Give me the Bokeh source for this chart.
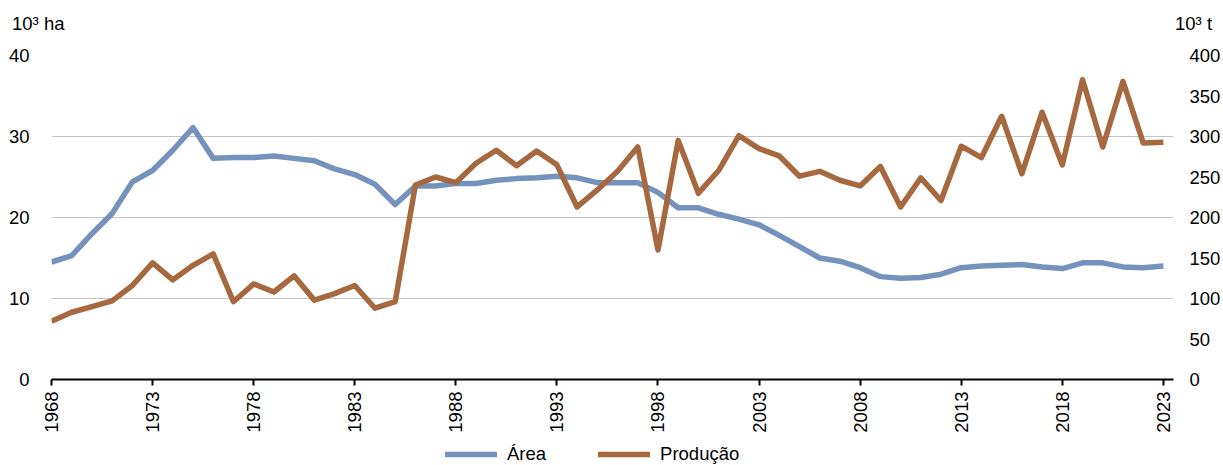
from bokeh.plotting import figure
from bokeh.layouts import column
from bokeh.models import Range1d, LinearAxis, FixedTicker, Legend, LegendItem, Div
from bokeh.embed import file_html
from bokeh.resources import INLINE
import math

years = list(range(1968, 2024))
area = [14.5, 15.3, 18.0, 20.5, 24.4, 25.8, 28.3, 31.1, 27.3, 27.4,
        27.4, 27.6, 27.3, 27.0, 26.0, 25.3, 24.1, 21.6, 23.9, 23.9,
        24.2, 24.2, 24.6, 24.8, 24.9, 25.1, 24.9, 24.3, 24.3, 24.3,
        23.1, 21.2, 21.2, 20.4, 19.8, 19.1, 17.8, 16.4, 15.0, 14.6,
        13.8, 12.7, 12.5, 12.6, 13.0, 13.8, 14.0, 14.1, 14.2, 13.9,
        13.7, 14.4, 14.4, 13.9, 13.8, 14.0]
producao = [72, 83, 90, 97, 116, 144, 123, 141, 155, 96,
            118, 108, 128, 98, 106, 116, 88, 96, 240, 250,
            243, 267, 283, 264, 282, 265, 213, 234, 257, 287,
            160, 295, 230, 258, 301, 285, 276, 251, 257, 246,
            239, 263, 213, 249, 221, 288, 274, 325, 254, 330,
            265, 370, 287, 368, 292, 293]
x_ticks = list(range(1968, 2024, 5))
left_ticks = [0, 10, 20, 30, 40]
right_ticks = [0, 50, 100, 150, 200, 250, 300, 350, 400]
series_names = ["Área", "Produção"]
unit_names = ["10³ ha", "10³ t"]
colors = ["#7492BB", "#A5683F"]
FONT = "Liberation Sans"
FS = "18.5px"
W = 1223
LW = 5.5

# --- top strip with unit labels ---
top_html = (
    '<div style="position:relative;width:%dpx;height:40px;font-family:\'%s\';'
    'font-size:%s;color:black;line-height:1;">'
    '<span style="position:absolute;left:12px;top:15px;white-space:nowrap;">%s</span>'
    '<span style="position:absolute;left:1175px;top:15px;white-space:nowrap;">%s</span>'
    '</div>' % (W, FONT, FS, unit_names[0], unit_names[1])
)
top = Div(text=top_html, width=W, height=40, margin=0)

# --- main plot ---
p = figure(width=W, height=395, output_backend="svg", toolbar_location=None,
           x_range=Range1d(1968, 2023.5), y_range=Range1d(0, 40),
           min_border_left=51, min_border_top=15, min_border_bottom=55, min_border_right=0)
p.outline_line_color = None
p.background_fill_color = "white"
p.border_fill_color = "white"

p.extra_y_ranges = {"t": Range1d(0, 400)}

p.line(years, area, line_color=colors[0], line_width=LW, line_join="round")
p.line(years, producao, line_color=colors[1], line_width=LW, line_join="round",
       y_range_name="t")

xa = p.xaxis[0]
xa.ticker = FixedTicker(ticks=x_ticks, minor_ticks=[])
xa.major_label_orientation = math.pi / 2
xa.axis_line_color = "black"
xa.axis_line_width = 2
xa.major_tick_line_color = "black"
xa.major_tick_line_width = 2
xa.major_tick_in = 0
xa.major_tick_out = 6
xa.minor_tick_line_color = None
xa.major_label_standoff = 6
xa.major_label_text_font = FONT
xa.major_label_text_font_size = FS
xa.major_label_text_color = "black"

ya = p.yaxis[0]
ya.ticker = FixedTicker(ticks=left_ticks, minor_ticks=[])
ya.axis_line_color = None
ya.major_tick_line_color = None
ya.minor_tick_line_color = None
ya.major_tick_in = 0
ya.major_tick_out = 0
ya.major_label_standoff = 22
ya.major_label_text_font = FONT
ya.major_label_text_font_size = FS
ya.major_label_text_color = "black"

ra = LinearAxis(y_range_name="t", ticker=FixedTicker(ticks=right_ticks, minor_ticks=[]))
ra.axis_line_color = None
ra.major_tick_line_color = None
ra.minor_tick_line_color = None
ra.major_tick_in = 0
ra.major_tick_out = 0
ra.major_label_standoff = 16
ra.major_label_text_font = FONT
ra.major_label_text_font_size = FS
ra.major_label_text_color = "black"
p.add_layout(ra, "right")

p.xgrid.grid_line_color = None
p.ygrid.ticker = FixedTicker(ticks=[10, 20, 30, 40])
p.ygrid.grid_line_color = "#C4C4C4"
p.ygrid.grid_line_width = 1

# --- bottom strip with legend (its lines lie outside its visible ranges) ---
bot = figure(width=W, height=30, output_backend="svg", toolbar_location=None,
             x_range=Range1d(0, 1), y_range=Range1d(1000, 1001),
             x_axis_location=None, y_axis_location=None,
             min_border=0, min_border_left=0, min_border_right=0,
             min_border_top=0, min_border_bottom=0)
bot.outline_line_color = None
bot.grid.visible = False
bot.background_fill_color = "white"
bot.border_fill_color = "white"
k1 = bot.line(years, area, line_color=colors[0], line_width=LW, line_cap="round")
k2 = bot.line(years, producao, line_color=colors[1], line_width=LW, line_cap="round")
legend = Legend(items=[LegendItem(label=series_names[0], renderers=[k1]),
                       LegendItem(label=series_names[1], renderers=[k2])],
                orientation="horizontal", location=(394, 0),
                glyph_width=52, glyph_height=20, label_standoff=10, spacing=52,
                padding=0, margin=0, border_line_color=None,
                background_fill_alpha=0,
                label_text_font=FONT, label_text_font_size=FS, label_text_color="black")
bot.add_layout(legend, "center")

layout = column(top, p, bot, spacing=0)
open("out.html", "w").write(file_html(layout, INLINE))
